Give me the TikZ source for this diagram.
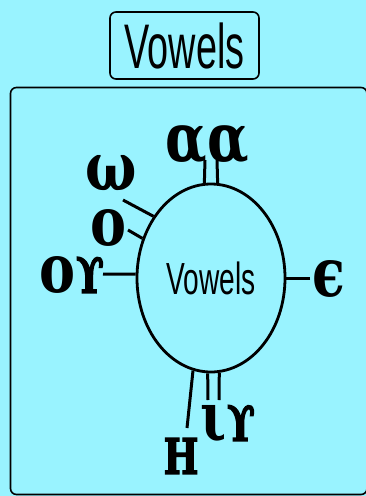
\documentclass[tikz,border=0pt]{standalone}
\usepackage{fontspec}
\usetikzlibrary{shapes.geometric}
\setmainfont{Liberation Sans}
\newfontfamily\copt{DejaVu Serif}
\newfontfamily\coptheavy{DejaVu Serif}[BoldFeatures={FakeBold=3}]
\definecolor{bgc}{RGB}{153,243,255}
\newcommand\cptlow[1]{\scalebox{1}[1.25]{#1}}
\newcommand\cptcap[1]{{\coptheavy\bfseries\fontsize{49}{49}\selectfont\scalebox{0.75}[1]{#1}}}
\tikzset{
  frame/.style={draw=black, line width=1.6pt, rounded corners=6pt},
  conn/.style={draw=black, line width=3pt},
  lbl/.style={inner sep=0pt, font=\copt\bfseries\fontsize{54}{54}\selectfont},
}
\begin{document}
\begin{tikzpicture}[x=1pt,y=-1pt]
\fill[bgc] (0,0) rectangle (366,496);
\useasboundingbox (0,0) rectangle (366,496);
\draw[frame] (10.5,87.5) rectangle (367,494.5);
\node[frame, minimum width=149pt, minimum height=67pt, inner sep=0pt] (title) at (184.5,45.5)
  {\fontsize{63}{63}\selectfont\scalebox{0.6}[1]{Vowels}};
\node[ellipse, draw, line width=2.8pt, minimum width=148pt, minimum height=188pt, inner sep=0pt] (e) at (211,278)
  {\fontsize{45}{45}\selectfont\scalebox{0.625}[1]{Vowels}};
% labels (Coptic vowels, in Greek letters)
\node[lbl] (aa) at (207,145) {\cptlow{αα}};
\node[lbl] (w) at (111,173) {\cptlow{ω}};
\node[lbl] (o) at (109,228) {\cptlow{ο}};
\node[lbl] (ou) at (72,275) {\cptlow{ο}\cptcap{ϒ}};
\node[lbl] (ee) at (329,279) {\cptlow{ϵ}};
\node[lbl] (h) at (181,456) {\cptcap{Η}};
\node[lbl] (iu) at (228,424) {\cptlow{ι}\cptcap{ϒ}};
% free ends
\coordinate (ta) at (205,160);
\coordinate (tb) at (217,160);
\coordinate (re) at (310,278);
\coordinate (le) at (103,274);
\coordinate (oe) at (128,230);
\coordinate (we) at (123,200);
\coordinate (he) at (187,428);
\coordinate (ba) at (208,400);
\coordinate (bb) at (219,400);
\draw[conn] (ta) -- (e.94);
\draw[conn] (tb) -- (e.86);
\draw[conn] (re) -- (e.east);
\draw[conn] (le) -- (e.177);
\draw[conn] (oe) -- (e.150);
\draw[conn] (we) -- (e.133);
\draw[conn] (he) -- (e.259);
\draw[conn] (ba) -- (e.268);
\draw[conn] (bb) -- (e.275);
\end{tikzpicture}
\end{document}
